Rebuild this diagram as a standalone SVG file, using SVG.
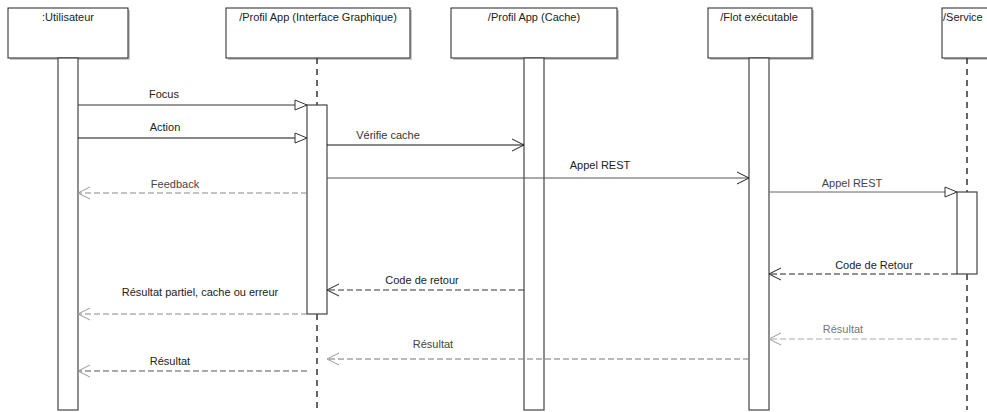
<svg xmlns="http://www.w3.org/2000/svg" width="987" height="412" viewBox="0 0 987 412">
<style>
text{font-family:"Liberation Sans",Arial,sans-serif;font-size:11px;fill:#222}
.hdr{fill:#fff;stroke:#222;stroke-width:1}
.shd{fill:#c8c8c8}
.life{stroke:#333;stroke-width:1.5;stroke-dasharray:6,5;fill:none}
.bar{fill:#fff;stroke:#444;stroke-width:1.2}
.msg{fill:none;stroke-width:1}
.ret{fill:none;stroke-width:1;stroke-dasharray:6,3}
</style>
<defs>
<marker id="tri" markerUnits="userSpaceOnUse" markerWidth="16" markerHeight="14" refX="13" refY="7" orient="auto" overflow="visible">
<path d="M1,2 L13,7 L1,12 Z" fill="#fff" stroke="#333" stroke-width="1"/>
</marker>
<marker id="openK" markerUnits="userSpaceOnUse" markerWidth="16" markerHeight="14" refX="13" refY="7" orient="auto" overflow="visible">
<path d="M1,1 L13,7 L1,13" fill="none" stroke="#222" stroke-width="1"/>
</marker>
<marker id="openG" markerUnits="userSpaceOnUse" markerWidth="16" markerHeight="14" refX="13" refY="7" orient="auto" overflow="visible">
<path d="M1,1 L13,7 L1,13" fill="none" stroke="#999" stroke-width="1"/>
</marker>
</defs>

<g id="utilisateur">
<rect class="shd" x="10" y="10" width="120" height="50"/>
<rect class="hdr" x="8" y="8" width="120" height="50"/>
<text x="68" y="21" text-anchor="middle">:Utilisateur</text>
<rect class="bar" x="58" y="58" width="20" height="352" stroke="#888"/>
</g>

<g id="gui">
<rect class="shd" x="228" y="10" width="184" height="50"/>
<rect class="hdr" x="226" y="8" width="184" height="50"/>
<text x="318" y="21" text-anchor="middle">/Profil App (Interface Graphique)</text>
<line class="life" x1="317" y1="58" x2="317" y2="105"/>
<line class="life" x1="317" y1="314" x2="317" y2="410"/>
<rect class="bar" x="307" y="105" width="20" height="209" stroke="#111"/>
</g>

<g id="cache">
<rect class="shd" x="453" y="10" width="166" height="50"/>
<rect class="hdr" x="451" y="8" width="166" height="50"/>
<text x="534" y="21" text-anchor="middle">/Profil App (Cache)</text>
<rect class="bar" x="524" y="58" width="20" height="352" stroke="#777"/>
</g>

<g id="flot">
<rect class="shd" x="710" y="10" width="104" height="50"/>
<rect class="hdr" x="708" y="8" width="104" height="50"/>
<text x="759" y="21" text-anchor="middle">/Flot exécutable</text>
<rect class="bar" x="749" y="58" width="20" height="352" stroke="#111"/>
</g>

<g id="service">
<rect class="shd" x="944" y="10" width="60" height="50"/>
<rect class="hdr" x="942" y="8" width="60" height="50"/>
<text x="943" y="21">/Service</text>
<line class="life" x1="967" y1="58" x2="967" y2="192" stroke="#888"/>
<line class="life" x1="967" y1="274" x2="967" y2="410" stroke="#888"/>
<rect class="bar" x="957" y="192" width="20" height="82" stroke="#555"/>
</g>

<g id="connectors">
<line class="msg" x1="78" y1="105" x2="307" y2="105" stroke="#333" marker-end="url(#tri)"/>
<text x="164" y="98" text-anchor="middle">Focus</text>
<line class="msg" x1="78" y1="138" x2="307" y2="138" stroke="#111" marker-end="url(#tri)"/>
<text x="165" y="131" text-anchor="middle">Action</text>
<line class="msg" x1="327" y1="145" x2="524" y2="145" stroke="#111" marker-end="url(#openK)"/>
<text x="388" y="139" text-anchor="middle" style="fill:#333">Vérifie cache</text>
<line class="msg" x1="327" y1="178" x2="749" y2="178" stroke="#555" marker-end="url(#openK)"/>
<text x="600" y="169" text-anchor="middle">Appel REST</text>
<line class="ret" x1="307" y1="193" x2="78" y2="193" stroke="#888" marker-end="url(#openG)"/>
<text x="175" y="188" text-anchor="middle" style="fill:#444">Feedback</text>
<line class="msg" x1="769" y1="192" x2="957" y2="192" stroke="#666" marker-end="url(#tri)"/>
<text x="852" y="187" text-anchor="middle" style="fill:#444">Appel REST</text>
<line class="ret" x1="957" y1="274" x2="769" y2="274" stroke="#222" marker-end="url(#openK)"/>
<text x="874" y="269" text-anchor="middle">Code de Retour</text>
<line class="ret" x1="524" y1="290" x2="327" y2="290" stroke="#333" marker-end="url(#openK)"/>
<text x="422" y="284" text-anchor="middle">Code de retour</text>
<line class="ret" x1="307" y1="314" x2="78" y2="314" stroke="#888" marker-end="url(#openG)"/>
<text x="200" y="296" text-anchor="middle">Résultat partiel, cache ou erreur</text>
<line class="ret" x1="957" y1="339" x2="769" y2="339" stroke="#aaa" marker-end="url(#openG)"/>
<text x="843" y="333" text-anchor="middle" style="fill:#777">Résultat</text>
<line class="ret" x1="749" y1="359" x2="327" y2="359" stroke="#777" marker-end="url(#openG)"/>
<text x="433" y="348" text-anchor="middle" style="fill:#444">Résultat</text>
<line class="ret" x1="307" y1="371" x2="78" y2="371" stroke="#555" marker-end="url(#openG)"/>
<text x="170" y="365" text-anchor="middle">Résultat</text>
</g>
</svg>
